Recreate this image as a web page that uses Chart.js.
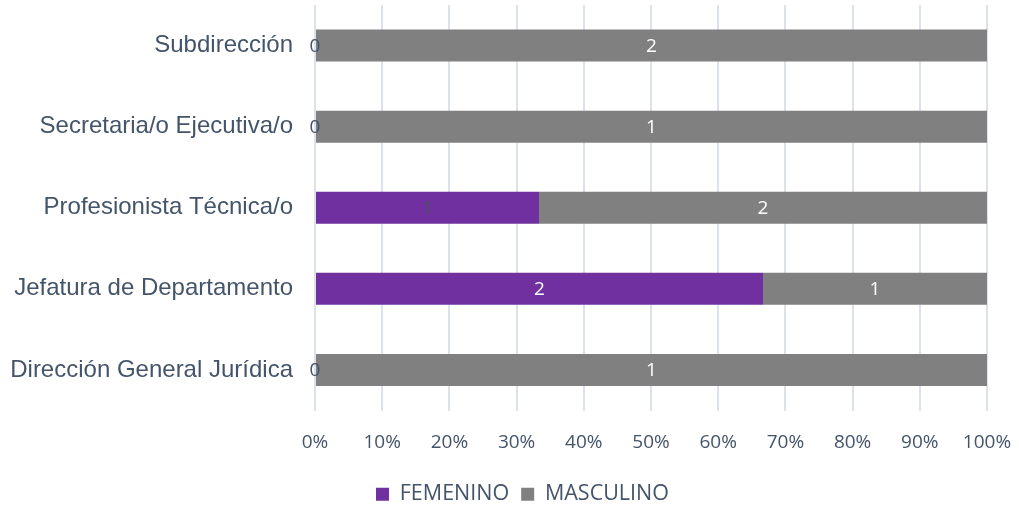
<!DOCTYPE html>
<html>
<head>
<meta charset="utf-8">
<script src="https://cdn.jsdelivr.net/npm/chart.js@4"></script>
<style>
  html, body { margin: 0; padding: 0; background: #fff; }
  #wrap { width: 1019px; height: 509px; }
</style>
</head>
<body>
<div id="wrap"><canvas id="grafica"></canvas></div>
<script>
const categorias = ['Subdirección', 'Secretaria/o Ejecutiva/o', 'Profesionista Técnica/o', 'Jefatura de Departamento', 'Dirección General Jurídica'];
const femenino = [0, 0, 1, 2, 0];
const masculino = [2, 1, 2, 1, 1];
const ticksX = ['0%', '10%', '20%', '30%', '40%', '50%', '60%', '70%', '80%', '90%', '100%'];

const texto = '#44546A';
const totales = categorias.map((c, i) => femenino[i] + masculino[i]);
const pct = arr => arr.map((v, i) => v / totales[i] * 100);

// etiquetas de valor sobre cada segmento
const etiquetas = {
    id: 'etiquetas',
    afterDatasetsDraw(chart) {
        const ctx = chart.ctx;
        ctx.save();
        ctx.font = '19px "Open Sans", sans-serif';
        ctx.textAlign = 'center';
        ctx.textBaseline = 'middle';
        chart.data.datasets.forEach((ds, d) => {
            const meta = chart.getDatasetMeta(d);
            meta.data.forEach((bar, i) => {
                const v = ds.valores[i];
                const x = (bar.x + bar.base) / 2;
                if (v === 0) ctx.fillStyle = texto;
                else if (d === 0 && v === 1) ctx.fillStyle = '#4a4f63';
                else ctx.fillStyle = '#ffffff';
                ctx.fillText(String(v), x, bar.y + 1);
            });
        });
        ctx.restore();
    }
};

// la leyenda del original queda algo a la derecha del centro
const moverLeyenda = {
    id: 'moverLeyenda',
    afterLayout(chart) {
        chart.legend.left += 29;
        chart.legend.right += 29;
    }
};

new Chart(document.getElementById('grafica'), {
    type: 'bar',
    data: {
        labels: categorias,
        datasets: [
            { label: 'FEMENINO', data: pct(femenino), valores: femenino, backgroundColor: '#7030A0' },
            { label: 'MASCULINO', data: pct(masculino), valores: masculino, backgroundColor: '#808080' }
        ]
    },
    options: {
        indexAxis: 'y',
        responsive: true,
        maintainAspectRatio: false,
        animation: false,
        layout: { padding: { top: 5, right: 32, left: 0, bottom: -6 } },
        datasets: { bar: { categoryPercentage: 0.79, barPercentage: 0.5 } },
        scales: {
            x: {
                stacked: true,
                min: 0,
                max: 100,
                border: { display: false },
                grid: { color: '#DCE1EA', lineWidth: 2, tickLength: 0 },
                ticks: {
                    stepSize: 10,
                    padding: 21,
                    color: texto,
                    font: { family: '"Open Sans", sans-serif', size: 19 },
                    callback: (v, i) => ticksX[i]
                },
                afterFit: s => { s.height = 61; s.paddingLeft = 0; s.paddingRight = 0; }
            },
            y: {
                stacked: true,
                border: { display: false },
                grid: { display: false },
                ticks: {
                    padding: 14,
                    color: texto,
                    font: { family: '"Liberation Sans", Arial, sans-serif', size: 24 }
                },
                afterFit: s => { s.width = 315; s.paddingTop = 0; s.paddingBottom = 0; }
            }
        },
        plugins: {
            tooltip: { enabled: false },
            legend: {
                position: 'bottom',
                labels: {
                    color: texto,
                    font: { family: '"Open Sans", sans-serif', size: 21.5 },
                    boxWidth: 13,
                    boxHeight: 13,
                    padding: 12
                }
            }
        }
    },
    plugins: [etiquetas, moverLeyenda]
});
</script>
</body>
</html>
